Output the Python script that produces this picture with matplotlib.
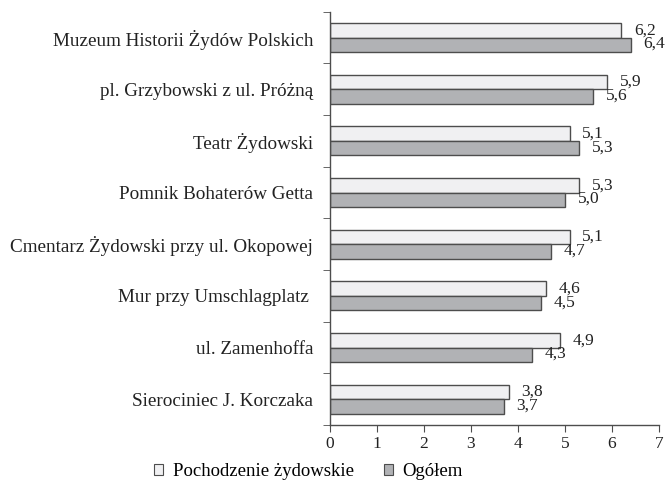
import numpy as np
import matplotlib.pyplot as plt
from matplotlib.patches import Patch

plt.rcParams['font.family'] = ['Liberation Serif', 'DejaVu Serif']

miejsca = [
    'Muzeum Historii Żydów Polskich',
    'pl. Grzybowski z ul. Próżną',
    'Teatr Żydowski',
    'Pomnik Bohaterów Getta',
    'Cmentarz Żydowski przy ul. Okopowej',
    'Mur przy Umschlagplatz ',
    'ul. Zamenhoffa',
    'Sierociniec J. Korczaka',
]
pochodzenie = [6.2, 5.9, 5.1, 5.3, 5.1, 4.6, 4.9, 3.8]
ogolem = [6.4, 5.6, 5.3, 5.0, 4.7, 4.5, 4.3, 3.7]
serie = ['Pochodzenie żydowskie', 'Ogółem']

jasny = '#f0f0f2'
ciemny = '#b1b2b5'
krawedz = '#4d4d4d'
tekst = '#222222'


def fmt(v):
    return f'{v:.1f}'.replace('.', ',')


def main():
    fig = plt.figure(figsize=(6.7, 4.87), dpi=100)
    ax = fig.add_axes([0.4925, 0.1273, 0.4910, 0.8487])

    n = len(miejsca)
    y = np.arange(n)[::-1]
    h = 0.28

    ax.barh(y + h / 2, pochodzenie, height=h, color=jasny,
            edgecolor=krawedz, linewidth=1.0)
    ax.barh(y - h / 2, ogolem, height=h, color=ciemny,
            edgecolor=krawedz, linewidth=1.0)

    # etykiety wartosci, przecinek dziesietny
    for yi, a, b in zip(y, pochodzenie, ogolem):
        ax.annotate(fmt(a), (a, yi + h / 2), xytext=(9, 0),
                    textcoords='offset points', va='center', ha='left',
                    fontsize=12.5, color=tekst)
        ax.annotate(fmt(b), (b, yi - h / 2), xytext=(9, 0.5),
                    textcoords='offset points', va='center', ha='left',
                    fontsize=12.5, color=tekst)

    ax.set_xlim(0, 7)
    ax.set_ylim(-0.5, n - 0.5)
    ax.set_xticks(range(8))
    ax.set_yticks(y)
    ax.set_yticklabels(miejsca, fontsize=13.8, color=tekst)
    ax.set_yticks(np.arange(n + 1) - 0.5, minor=True)
    ax.tick_params(axis='y', which='major', length=0, pad=12)
    ax.tick_params(axis='y', which='minor', length=5, color=krawedz)
    ax.tick_params(axis='x', length=5, color=krawedz, labelsize=12.5,
                   labelcolor=tekst, pad=3)

    for s in ['top', 'right']:
        ax.spines[s].set_visible(False)
    for s in ['left', 'bottom']:
        ax.spines[s].set_color(krawedz)
        ax.spines[s].set_linewidth(1.0)

    uchwyty = [Patch(facecolor=jasny, edgecolor=krawedz, linewidth=0.8),
               Patch(facecolor=ciemny, edgecolor=krawedz, linewidth=0.8)]
    fig.legend(uchwyty, serie, loc='center', bbox_to_anchor=(0.46, 0.031),
               ncol=2, frameon=False, fontsize=13.5, handlelength=0.5,
               handleheight=0.5, handletextpad=0.5, columnspacing=1.6,
               borderpad=0)

    fig.savefig('out.png', dpi=100)


if __name__ == '__main__':
    main()
